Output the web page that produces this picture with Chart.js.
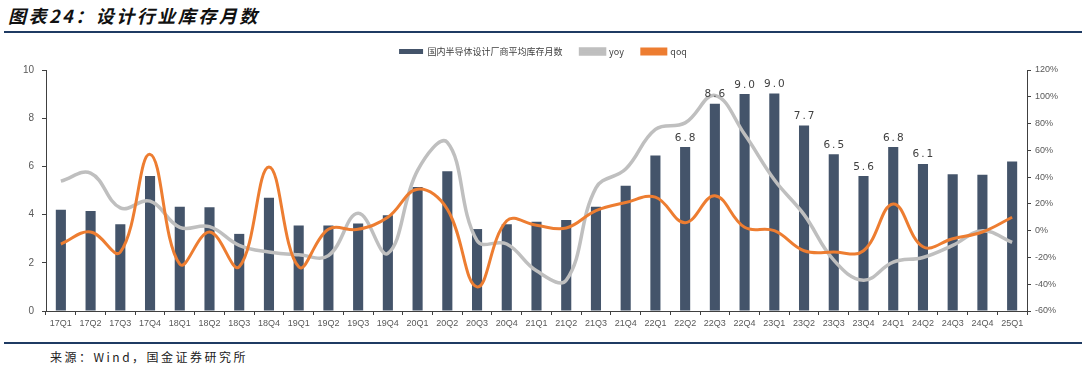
<!DOCTYPE html>
<html>
<head>
<meta charset="utf-8">
<script src="https://cdn.jsdelivr.net/npm/chart.js@4/dist/chart.umd.min.js"></script>
<style>
  html, body { margin: 0; padding: 0; background: #fff; }
  #wrap { position: relative; width: 1086px; height: 371px; overflow: hidden; }
  .title { position: absolute; left: 8px; top: 2px; font: italic bold 18px "Noto Sans CJK SC", sans-serif; letter-spacing: 2.5px; color: #111; }
  .rule { position: absolute; left: 4px; right: 4px; height: 2px; background: #1f3b63; }
  .source { position: absolute; left: 50px; top: 348px; font: 12px "Noto Sans CJK SC", sans-serif; letter-spacing: 2.5px; color: #222; }
  #box { position: absolute; left: 0; top: 29px; width: 1086px; height: 311px; }
</style>
</head>
<body>
<div id="wrap">
  <div class="title">图表24：设计行业库存月数</div>
  <div class="rule" style="top:31px"></div>
  <div id="box"><canvas id="chart"></canvas></div>
  <div class="rule" style="top:342px"></div>
  <div class="source">来源：Wind，国金证券研究所</div>
</div>
<script>
// categories
const quarters = [
  "17Q1","17Q2","17Q3","17Q4","18Q1","18Q2","18Q3","18Q4",
  "19Q1","19Q2","19Q3","19Q4","20Q1","20Q2","20Q3","20Q4",
  "21Q1","21Q2","21Q3","21Q4","22Q1","22Q2","22Q3","22Q4",
  "23Q1","23Q2","23Q3","23Q4","24Q1","24Q2","24Q3","24Q4","25Q1"
];

// average inventory months (left axis)
const inventoryMonths = [
  4.2, 4.15, 3.6, 5.6, 4.33, 4.3, 3.2, 4.7,
  3.55, 3.55, 3.63, 3.97, 5.15, 5.8, 3.4, 3.6,
  3.7, 3.78, 4.33, 5.2, 6.45, 6.8, 8.6, 9.0,
  9.02, 7.7, 6.5, 5.6, 6.8, 6.1, 5.67, 5.65, 6.2
];

// labels shown above some bars
const barLabels = [
  null, null, null, null, null, null, null, null,
  null, null, null, null, null, null, null, null,
  null, null, null, null, null, "6.8", "8.6", "9.0",
  "9.0", "7.7", "6.5", "5.6", "6.8", "6.1", null, null, null
];

// yoy %, right axis
const yoy = [
  37, 43, 17, 22, 2.5, 3, -11, -16,
  -18, -18.6, 13, -17, 45, 66, -7.5, -10,
  -30, -37, 32, 46, 75.6, 80.5, 101, 72,
  38, 12, -22, -37, -23.5, -20, -11, 0, -8.7
];

// qoq %, right axis
const qoq = [
  -10, -1, -16, 57, -25, -1, -27, 47.6,
  -27, 1, 1, 10, 31, 16, -42, 7.4,
  4, 2, 15, 21, 25, 6, 26, 2.5,
  0, -15, -16, -15, 20, -12, -6, -1, 10
];

// axis ranges
const pctMin = -60, pctMax = 120, pctStep = 20;
const leftMin = 0, leftMax = 10, leftStep = 2;

const barColor = "#44546a";
const yoyColor = "#bfbfbf";
const qoqColor = "#ed7d31";
const tickColor = "#595959";
const axisColor = "#404040";

// value labels above the bars
const barLabelPlugin = {
  id: "barLabels",
  afterDatasetsDraw(chart) {
    const meta = chart.getDatasetMeta(0);
    const ctx = chart.ctx;
    ctx.save();
    ctx.font = '10.5px "DejaVu Sans", sans-serif';
    ctx.fillStyle = "#404040";
    ctx.textAlign = "center";
    ctx.textBaseline = "bottom";
    ctx.letterSpacing = "2px";
    meta.data.forEach((bar, i) => {
      if (barLabels[i] == null) return;
      ctx.fillText(barLabels[i], bar.x + 1, bar.y - 4);
    });
    ctx.restore();
  }
};

// a little extra room under the legend
const legendGap = {
  id: "legendGap",
  beforeInit(chart) {
    const fit = chart.legend.fit;
    chart.legend.fit = function () {
      fit.bind(chart.legend)();
      this.height += 4;
    };
  }
};

new Chart(document.getElementById("chart"), {
  type: "bar",
  data: {
    labels: quarters,
    datasets: [
      {
        label: "国内半导体设计厂商平均库存月数",
        data: inventoryMonths,
        backgroundColor: barColor,
        borderWidth: 0,
        barPercentage: 0.68,
        categoryPercentage: 0.5,
        yAxisID: "y",
        order: 2
      },
      {
        type: "line",
        label: "yoy",
        data: yoy,
        borderColor: yoyColor,
        backgroundColor: yoyColor,
        borderWidth: 3.5,
        pointRadius: 0,
        tension: 0.4,
        yAxisID: "y1",
        order: 1
      },
      {
        type: "line",
        label: "qoq",
        data: qoq,
        borderColor: qoqColor,
        backgroundColor: qoqColor,
        borderWidth: 3,
        pointRadius: 0,
        tension: 0.4,
        yAxisID: "y1",
        order: 0
      }
    ]
  },
  options: {
    responsive: true,
    maintainAspectRatio: false,
    animation: false,
    plugins: {
      tooltip: { enabled: false },
      legend: {
        position: "top",
        labels: {
          boxWidth: 24,
          boxHeight: 5,
          padding: 18,
          color: "#404040",
          font: { size: 9, family: '"Noto Sans CJK SC", sans-serif' },
          sort: (a, b) => a.datasetIndex - b.datasetIndex
        }
      }
    },
    scales: {
      x: {
        grid: {
          display: true,
          drawOnChartArea: false,
          drawTicks: true,
          tickLength: 4,
          color: axisColor
        },
        border: { display: true, color: axisColor, width: 1 },
        ticks: {
          color: tickColor,
          font: { size: 9, family: '"Liberation Sans", Arial, sans-serif' },
          maxRotation: 0,
          autoSkip: false,
          padding: 3
        },
        afterFit(axis) { axis.height = 29; }
      },
      y: {
        position: "left",
        min: leftMin,
        max: leftMax,
        grid: { display: true, drawOnChartArea: false, tickLength: 4, color: axisColor },
        border: { display: true, color: axisColor, width: 1 },
        ticks: {
          stepSize: leftStep,
          color: tickColor,
          font: { size: 10, family: '"Liberation Sans", Arial, sans-serif' },
          padding: 8
        },
        afterFit(axis) { axis.width = 46; }
      },
      y1: {
        position: "right",
        min: pctMin,
        max: pctMax,
        grid: { display: true, drawOnChartArea: false, tickLength: 4, color: axisColor },
        border: { display: true, color: axisColor, width: 1 },
        ticks: {
          stepSize: pctStep,
          color: tickColor,
          font: { size: 9, family: '"Liberation Sans", Arial, sans-serif' },
          padding: 4,
          callback: v => v + "%"
        },
        afterFit(axis) { axis.width = 59; }
      }
    }
  },
  plugins: [barLabelPlugin, legendGap]
});
</script>
</body>
</html>
